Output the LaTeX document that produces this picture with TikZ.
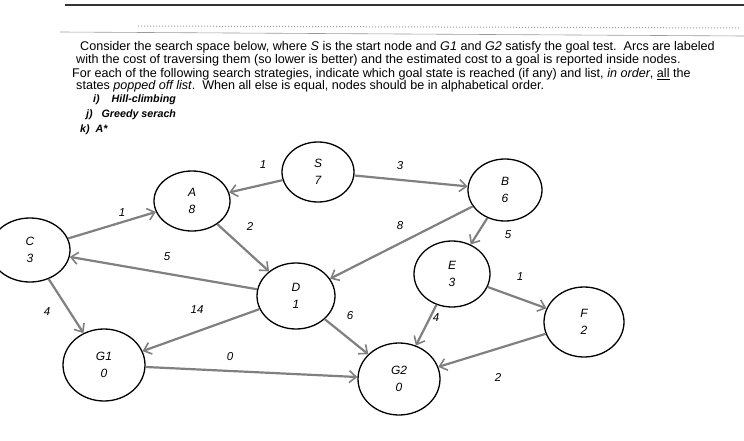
\documentclass[tikz,border=0pt]{standalone}
\usepackage{fontspec}
\setmainfont{Liberation Sans}
\usetikzlibrary{arrows.meta, shapes.geometric}
\definecolor{arcgray}{HTML}{808080}
\definecolor{headgray}{HTML}{9A9A9A}
\tikzset{
  snode/.style={ellipse, draw=black, line width=1.3pt, fill=white,
                minimum width=78pt, minimum height=64pt, inner sep=0pt,
                align=center, font=\itshape\fontsize{12}{17}\selectfont},
  arc/.style={line width=2.2pt, draw=arcgray,
              -{Straight Barb[length=7pt, width=12pt, line width=1.6pt]}},
  wlbl/.style={font=\itshape\fontsize{11.5}{13}\selectfont},
  hline/.style={anchor=base west, inner sep=0pt, font=\fontsize{12.6}{14}\selectfont},
  item/.style={anchor=base west, inner sep=0pt, font=\bfseries\itshape\fontsize{10.7}{12}\selectfont},
}

\begin{document}
\begin{tikzpicture}[x=1pt, y=-1pt]
  \useasboundingbox (0,0) rectangle (744,441);

  \draw[line width=1.4pt, black!80] (65,5) -- (744,5);
  \draw[headgray, line width=0.6pt] (60,32) -- (744,36);
  \draw[headgray, line width=1pt, dotted] (138,26) -- (740,28);

  \node[hline] (l1) at (80,51) {Consider the search space below, where \textit{S} is the start node and \textit{G1} and \textit{G2} satisfy the goal test.\ \ Arcs are labeled};
  \node[hline] (l2) at (76,64) {with the cost of traversing them (so lower is better) and the estimated cost to a goal is reported inside nodes.};
  \node[hline] (l3) at (72,78) {For each of the following search strategies, indicate which goal state is reached (if any) and list, \textit{in order}, \underline{all} the};
  \node[hline] (l4) at (76,90) {states \textit{popped off list}.\ \ When all else is equal, nodes should be in alphabetical order.};
  \node[item] (i1) at (93,103) {i)\ \ \ \ Hill-climbing};
  \node[item] (i2) at (86,118) {j)\ \ \ Greedy serach};
  \node[item] (i3) at (80,132) {k)\ \ A*};

  \node[snode, minimum width=72pt, minimum height=60pt] (S) at (318,172) {S\\7};
  \node[snode, minimum width=76pt, minimum height=60pt] (A) at (192,201) {A\\8};
  \node[snode, minimum width=74pt, minimum height=62pt] (B) at (505,190) {B\\6};
  \node[snode, minimum width=80pt, minimum height=64pt] (C) at (30,250) {C\\3};
  \node[snode, minimum width=78pt, minimum height=66pt] (D) at (296,296) {D\\1};
  \node[snode, minimum width=76pt, minimum height=66pt] (E) at (452,274) {E\\3};
  \node[snode, minimum width=80pt, minimum height=70pt] (F) at (584,322) {F\\2};
  \node[snode, minimum width=82pt, minimum height=72pt] (G1) at (104,365) {G1\\0};
  \node[snode, minimum width=82pt, minimum height=72pt] (G2) at (399,379) {G2\\0};

  \draw[arc] (S) -- (A);
  \draw[arc] (S) -- (B);
  \draw[arc] (C) -- (A);
  \draw[arc] (A) -- (D);
  \draw[arc] (D) -- (C);
  \draw[arc] (B) -- (D);
  \draw[arc] (B) -- (E);
  \draw[arc] (E) -- (F);
  \draw[arc] (C) -- (G1);
  \draw[arc] (D) -- (G1);
  \draw[arc] (D) -- (G2);
  \draw[arc] (E) -- (G2);
  \draw[arc] (G1) -- (G2);
  \draw[arc] (F) -- (G2);

  \node[wlbl] (wSA) at (263,165) {1};
  \node[wlbl] (wSB) at (400,166) {3};
  \node[wlbl] (wCA) at (122,213) {1};
  \node[wlbl] (wAD) at (250,226) {2};
  \node[wlbl] (wDC) at (167,257) {5};
  \node[wlbl] (wBD) at (400,226) {8};
  \node[wlbl] (wBE) at (508,235) {5};
  \node[wlbl] (wEF) at (520,277) {1};
  \node[wlbl] (wCG) at (47,312) {4};
  \node[wlbl] (wDG1) at (197,310) {14};
  \node[wlbl] (wDG2) at (350,316) {6};
  \node[wlbl] (wEG) at (436,318) {4};
  \node[wlbl] (wGG) at (230,357) {0};
  \node[wlbl] (wFG) at (498,377) {2};
\end{tikzpicture}
\end{document}
